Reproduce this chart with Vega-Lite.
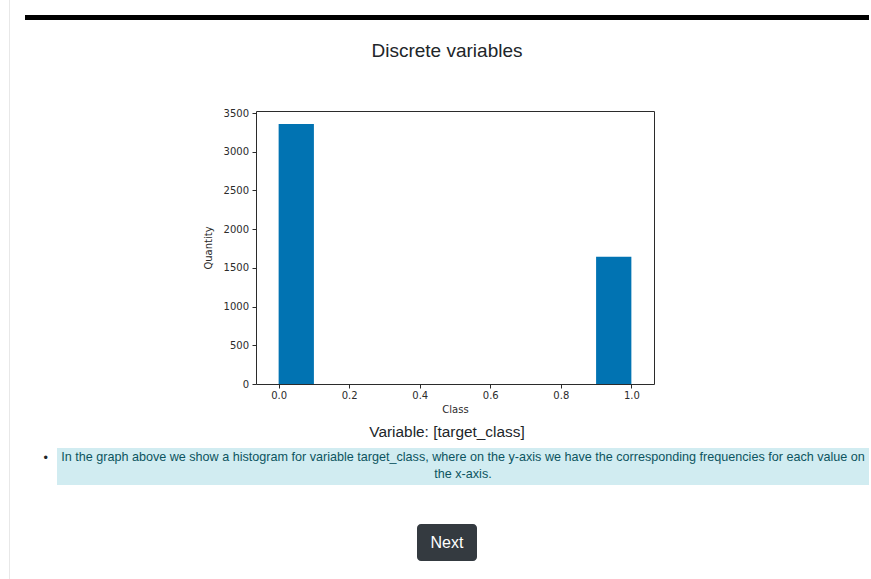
{
  "$schema": "https://vega.github.io/schema/vega-lite/v6.json",
  "background": "white",
  "padding": {"left": 9, "top": 0, "right": 0, "bottom": 0},
  "center": true,
  "spacing": 15,
  "hconcat": [
    {
      "width": 1,
      "height": 615,
      "data": {"values": [{}]},
      "mark": {"type": "rect", "color": "#e8e8e8"},
      "encoding": {}
    },
    {
      "vconcat": [
        {
          "width": 844,
          "height": 5,
          "data": {"values": [{}]},
          "mark": {"type": "rect", "color": "#000000"},
          "encoding": {}
        },
        {
          "width": 844,
          "height": 87,
          "data": {"values": [{"label": "Discrete variables"}]},
          "mark": {"type": "text", "font": "Liberation Sans", "fontSize": 19, "color": "#212529", "baseline": "alphabetic", "dy": -6.5},
          "encoding": {"text": {"field": "label"}}
        },
        {
          "hconcat": [
            {
              "width": 177,
              "height": 1,
              "data": {"values": [{}]},
              "mark": {"type": "rect", "opacity": 0},
              "encoding": {}
            },
            {
              "width": 398,
              "height": 273,
              "view": {"stroke": "#2b2b2b", "strokeWidth": 1},
              "data": {
                "values": [
                  {"bin_start": 0.0, "bin_end": 0.1, "count": 3358},
                  {"bin_start": 0.1, "bin_end": 0.2, "count": 0},
                  {"bin_start": 0.2, "bin_end": 0.3, "count": 0},
                  {"bin_start": 0.3, "bin_end": 0.4, "count": 0},
                  {"bin_start": 0.4, "bin_end": 0.5, "count": 0},
                  {"bin_start": 0.5, "bin_end": 0.6, "count": 0},
                  {"bin_start": 0.6, "bin_end": 0.7, "count": 0},
                  {"bin_start": 0.7, "bin_end": 0.8, "count": 0},
                  {"bin_start": 0.8, "bin_end": 0.9, "count": 0},
                  {"bin_start": 0.9, "bin_end": 1.0, "count": 1642}
                ]
              },
              "mark": {"type": "bar", "orient": "vertical", "color": "#0173b2"},
              "encoding": {
                "x": {
                  "field": "bin_start",
                  "type": "quantitative",
                  "scale": {"domain": [-0.05, 1.05], "nice": false, "zero": false},
                  "axis": {"title": "Class", "values": [0, 0.2, 0.4, 0.6, 0.8, 1.0], "format": ".1f", "labelPadding": 2, "titlePadding": 4}
                },
                "x2": {"field": "bin_end"},
                "y": {
                  "field": "count",
                  "type": "quantitative",
                  "stack": null,
                  "scale": {"domain": [0, 3526], "nice": false},
                  "axis": {"title": "Quantity", "values": [0, 500, 1000, 1500, 2000, 2500, 3000, 3500], "format": "d", "labelPadding": 3.5, "titlePadding": 10}
                }
              }
            }
          ],
          "spacing": 0
        },
        {
          "width": 844,
          "height": 33,
          "data": {"values": [{"label": "Variable: [target_class]"}]},
          "mark": {"type": "text", "font": "Liberation Sans", "fontSize": 15.4, "color": "#212529", "baseline": "alphabetic", "dy": 5.5},
          "encoding": {"text": {"field": "label"}}
        },
        {
          "hconcat": [
            {
              "width": 32,
              "height": 37,
              "data": {"values": [{"label": "•"}]},
              "mark": {"type": "text", "font": "Liberation Sans", "fontSize": 12.6, "color": "#212529", "baseline": "alphabetic", "dx": 4.7, "dy": -4.5},
              "encoding": {"text": {"field": "label"}}
            },
            {
              "width": 812,
              "height": 37,
              "view": {"fill": "#d1ecf1"},
              "data": {"values": [{"label": "In the graph above we show a histogram for variable target_class, where on the y-axis we have the corresponding frequencies for each value on\nthe x-axis."}]},
              "mark": {"type": "text", "font": "Liberation Sans", "fontSize": 12.6, "color": "#0c5460", "baseline": "alphabetic", "lineBreak": "\n", "lineHeight": 16.7, "dy": -5.2},
              "encoding": {"text": {"field": "label"}}
            }
          ],
          "spacing": 0
        },
        {
          "hconcat": [
            {
              "width": 392,
              "height": 115,
              "data": {"values": [{}]},
              "mark": {"type": "rect", "opacity": 0},
              "encoding": {}
            },
            {
              "width": 60,
              "height": 37,
              "view": {"fill": "#343a40", "cornerRadius": 4},
              "data": {"values": [{"label": "Next"}]},
              "mark": {"type": "text", "font": "Liberation Sans", "fontSize": 16, "color": "#ffffff", "baseline": "alphabetic", "dy": 5.5},
              "encoding": {"text": {"field": "label"}}
            }
          ],
          "spacing": 0,
          "center": true
        }
      ],
      "spacing": 0
    }
  ],
  "config": {
    "view": {"stroke": null},
    "axis": {
      "domain": false,
      "grid": false,
      "tickColor": "#2b2b2b",
      "tickSize": 4,
      "labelFont": "DejaVu Sans",
      "labelFontSize": 10,
      "labelColor": "#2b2b2b",
      "titleFont": "DejaVu Sans",
      "titleFontSize": 10,
      "titleFontWeight": "normal",
      "titleColor": "#2b2b2b"
    }
  }
}
